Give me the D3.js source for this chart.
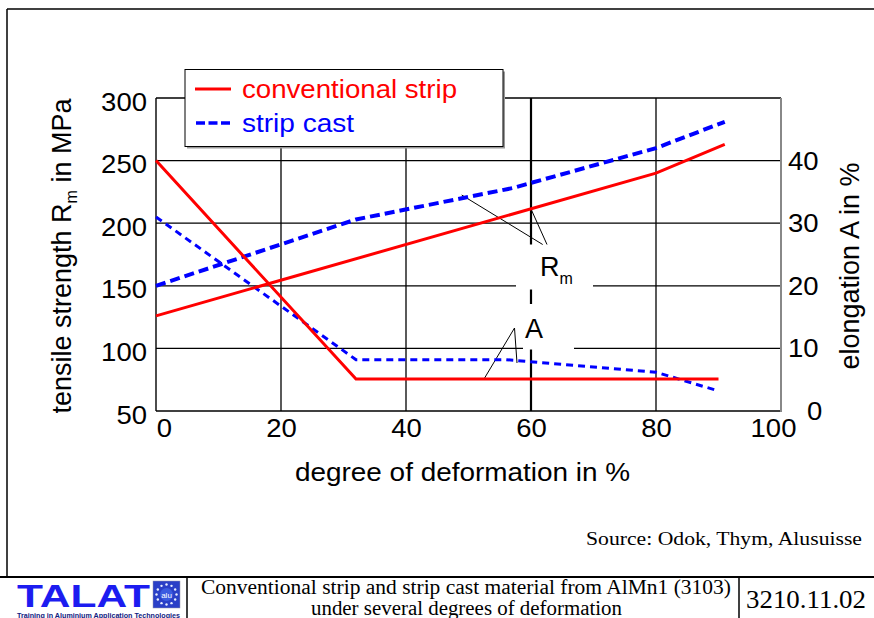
<!DOCTYPE html>
<html><head><meta charset="utf-8">
<script src="https://cdn.jsdelivr.net/npm/d3@7"></script>
<style>
body{margin:0;background:#fff}
svg{display:block}
text{font-family:"Liberation Sans",Arial,sans-serif}
.serif{font-family:"Liberation Serif","Times New Roman",serif}
</style>
</head><body>
<svg id="c" width="874" height="618"></svg>
<script>
// ---- data ----
const xTicks = [0, 20, 40, 60, 80, 100];
const leftTicks = [50, 100, 150, 200, 250, 300];
const rightTicks = [0, 10, 20, 30, 40];
const seriesNames = ["conventional strip", "strip cast"];
// tensile strength Rm (MPa)
const convRmX = [0, 80, 91];
const convRm  = [126, 240, 263];
const castRmX = [0, 32, 57, 80, 91];
const castRm  = [150, 203, 228, 260, 281];
// elongation A (%)
const convAX = [0, 32, 90];
const convA  = [40, 5.1, 5.1];
const castAX = [0, 32, 56, 80, 90];
const castA  = [31, 8.2, 8.2, 6.2, 3.2];

const svg = d3.select("#c");
const X0 = 156, X1 = 781, Y0 = 411, Y1 = 98;
const x = d3.scaleLinear().domain([0, 100]).range([X0, X1]);
const yL = d3.scaleLinear().domain([50, 300]).range([Y0, Y1]);
const yR = d3.scaleLinear().domain([0, 50]).range([Y0, Y1]);

function stretch(sel, k) {
  sel.each(function () {
    const w = this.getComputedTextLength();
    d3.select(this).attr("textLength", w * k).attr("lengthAdjust", "spacingAndGlyphs");
  });
}
function fitText(sel, w) {
  sel.attr("textLength", w).attr("lengthAdjust", "spacingAndGlyphs");
}

// outer frame
svg.append("line").attr("x1", 7).attr("y1", 9).attr("x2", 874).attr("y2", 9).attr("stroke", "#000").attr("stroke-width", 1.5);
svg.append("line").attr("x1", 7).attr("y1", 9).attr("x2", 7).attr("y2", 577).attr("stroke", "#000").attr("stroke-width", 1.5);

// gridlines
const grid = svg.append("g");
leftTicks.filter(d => d > 50).forEach(d => {
  grid.append("line").attr("x1", X0).attr("x2", X1).attr("y1", yL(d)).attr("y2", yL(d))
    .attr("stroke", "#000").attr("stroke-width", 1.3);
});
xTicks.filter(d => d > 0 && d < 100).forEach(d => {
  grid.append("line").attr("x1", x(d)).attr("x2", x(d)).attr("y1", Y1).attr("y2", Y0)
    .attr("stroke", "#000").attr("stroke-width", d === 60 ? 2.2 : 1.3);
});
// axis frame lines
svg.append("line").attr("x1", X0).attr("x2", X0).attr("y1", Y1).attr("y2", Y0).attr("stroke", "#000").attr("stroke-width", 1.4);
svg.append("line").attr("x1", X0).attr("x2", X1).attr("y1", Y0).attr("y2", Y0).attr("stroke", "#000").attr("stroke-width", 1.4);
svg.append("line").attr("x1", X1).attr("x2", X1).attr("y1", Y1).attr("y2", Y0 + 1).attr("stroke", "#888").attr("stroke-width", 2);

// white boxes behind labels (gaps in grid)
svg.append("rect").attr("x", 516).attr("y", 244.5).attr("width", 77).attr("height", 45).attr("fill", "#fff");
svg.append("rect").attr("x", 523).attr("y", 304).attr("width", 51).attr("height", 45.5).attr("fill", "#fff");

// axes
const fs = 25;
const gL = svg.append("g").attr("transform", `translate(${X0},0)`)
  .call(d3.axisLeft(yL).tickValues(leftTicks).tickSize(0).tickPadding(9));
gL.select(".domain").remove();
gL.selectAll("text").attr("font-size", fs).attr("fill", "#000").attr("dy", "0.48em")
  .style("font-family", "'Liberation Sans',Arial,sans-serif");
stretch(gL.selectAll("text"), 1.1);

const gR = svg.append("g").attr("transform", `translate(${X1},0)`)
  .call(d3.axisRight(yR).tickValues(rightTicks).tickSize(0).tickPadding(7));
gR.select(".domain").remove();
gR.selectAll("text").attr("font-size", fs).attr("fill", "#000")
  .attr("dy", "0.34em")
  .attr("dx", d => d === 0 ? 19 : 0)
  .style("font-family", "'Liberation Sans',Arial,sans-serif");
stretch(gR.selectAll("text"), 1.1);

const gB = svg.append("g").attr("transform", `translate(0,${Y0})`)
  .call(d3.axisBottom(x).tickValues(xTicks).tickSize(0).tickPadding(8));
gB.select(".domain").remove();
gB.selectAll("text").attr("font-size", fs).attr("fill", "#000")
  .attr("dx", d => d === 0 ? 8 : (d === 100 ? -8 : 0))
  .style("font-family", "'Liberation Sans',Arial,sans-serif");
stretch(gB.selectAll("text"), 1.1);

// axis titles
const tl = svg.append("text").attr("transform", "translate(71,256) rotate(-90)")
  .attr("text-anchor", "middle").attr("font-size", 27).attr("fill", "#000");
tl.append("tspan").text("tensile strength R");
tl.append("tspan").text("m").attr("font-size", 16).attr("dy", 6);
tl.append("tspan").text(" in MPa").attr("dy", -6);

svg.append("text").attr("transform", "translate(859,266) rotate(-90)")
  .attr("text-anchor", "middle").attr("font-size", 27).attr("fill", "#000")
  .text("elongation A in %");

const xt = svg.append("text").attr("x", 295).attr("y", 481).attr("font-size", fs).attr("fill", "#000")
  .text("degree of deformation in %");
fitText(xt, 335);

// annotation leader lines
const ann = [
  [461.7, 195, 542.7, 244.5], [531, 209, 547, 244.5],
  [514.5, 328, 484, 379], [514.5, 328, 517, 363]
];
ann.forEach(a => svg.append("line").attr("x1", a[0]).attr("y1", a[1]).attr("x2", a[2]).attr("y2", a[3])
  .attr("stroke", "#000").attr("stroke-width", 1));

// data lines
const lineRm = d3.line().x(d => x(d[0])).y(d => yL(d[1]));
const lineA = d3.line().x(d => x(d[0])).y(d => yR(d[1]));
const zip = (a, b) => a.map((v, i) => [v, b[i]]);

svg.append("path").attr("d", lineA(zip(castAX, castA))).attr("fill", "none")
  .attr("stroke", "#0000ff").attr("stroke-width", 3).attr("stroke-dasharray", "7,5");
svg.append("path").attr("d", lineRm(zip(castRmX, castRm))).attr("fill", "none")
  .attr("stroke", "#0000ff").attr("stroke-width", 4).attr("stroke-dasharray", "10,5");
svg.append("path").attr("d", lineA(zip(convAX, convA))).attr("fill", "none")
  .attr("stroke", "#ff0000").attr("stroke-width", 3).attr("stroke-linejoin", "miter");
svg.append("path").attr("d", lineRm(zip(convRmX, convRm))).attr("fill", "none")
  .attr("stroke", "#ff0000").attr("stroke-width", 3);

// Rm and A labels
const rm = svg.append("text").attr("x", 540).attr("y", 276).attr("font-size", 27).attr("fill", "#000");
rm.append("tspan").text("R");
rm.append("tspan").text("m").attr("font-size", 16).attr("dy", 7.5);
svg.append("text").attr("x", 525).attr("y", 338).attr("font-size", 27).attr("fill", "#000").text("A");

// legend
const lg = svg.append("g");
lg.append("rect").attr("x", 187).attr("y", 71.5).attr("width", 318).attr("height", 77).attr("fill", "#999");
lg.append("rect").attr("x", 185).attr("y", 69.5).attr("width", 318).attr("height", 77)
  .attr("fill", "#fff").attr("stroke", "#000").attr("stroke-width", 1);
lg.append("line").attr("x1", 195).attr("x2", 231).attr("y1", 89).attr("y2", 89)
  .attr("stroke", "#ff0000").attr("stroke-width", 3);
lg.append("line").attr("x1", 196).attr("x2", 231).attr("y1", 123).attr("y2", 123)
  .attr("stroke", "#0000ff").attr("stroke-width", 3.5).attr("stroke-dasharray", "9,3.5");
const l1 = lg.append("text").attr("x", 242).attr("y", 98).attr("font-size", fs).attr("fill", "#ff0000").text(seriesNames[0]);
fitText(l1, 215);
const l2 = lg.append("text").attr("x", 242).attr("y", 132).attr("font-size", fs).attr("fill", "#0000ff").text(seriesNames[1]);
fitText(l2, 112);

// source
const src = svg.append("text").attr("class", "serif").attr("x", 586).attr("y", 545)
  .attr("font-size", 19).attr("fill", "#000").text("Source: Odok, Thym, Alusuisse");
fitText(src, 276);

// footer
svg.append("line").attr("x1", 0).attr("x2", 874).attr("y1", 577).attr("y2", 577).attr("stroke", "#000").attr("stroke-width", 2);
svg.append("line").attr("x1", 187).attr("x2", 187).attr("y1", 577).attr("y2", 618).attr("stroke", "#000").attr("stroke-width", 1.5);
svg.append("line").attr("x1", 739).attr("x2", 739).attr("y1", 577).attr("y2", 618).attr("stroke", "#000").attr("stroke-width", 1.5);

const f1 = svg.append("text").attr("class", "serif").attr("x", 201).attr("y", 594).attr("font-size", 20).attr("fill", "#000")
  .text("Conventional strip and strip cast material from AlMn1 (3103)");
fitText(f1, 530);
const f2 = svg.append("text").attr("class", "serif").attr("x", 311).attr("y", 615).attr("font-size", 20).attr("fill", "#000")
  .text("under several degrees of deformation");
fitText(f2, 311);
const f3 = svg.append("text").attr("class", "serif").attr("x", 746).attr("y", 608).attr("font-size", 26).attr("fill", "#000")
  .text("3210.11.02");
fitText(f3, 120);

// TALAT logo
const tal = svg.append("text").attr("x", 17).attr("y", 607).attr("font-size", 32).attr("font-weight", "bold")
  .attr("fill", "#1c1cf0").text("TALAT");
fitText(tal, 133);
const lgq = svg.append("g");
lgq.append("rect").attr("x", 153).attr("y", 581).attr("width", 27).attr("height", 27).attr("fill", "#2a3fc7").attr("stroke", "#99a").attr("stroke-width", 0.5);
for (let i = 0; i < 12; i++) {
  const a = i / 12 * Math.PI * 2;
  lgq.append("circle").attr("cx", 166.5 + 10 * Math.cos(a)).attr("cy", 594.5 + 10 * Math.sin(a)).attr("r", 1.2).attr("fill", "#e8eeff");
}
lgq.append("circle").attr("cx", 166.5).attr("cy", 594.5).attr("r", 6.5).attr("fill", "#3b5be0");
lgq.append("text").attr("x", 166.5).attr("y", 597.5).attr("text-anchor", "middle").attr("font-size", 8).attr("fill", "#fff").text("alu");
const small = svg.append("text").attr("x", 17).attr("y", 617.5).attr("font-size", 6.5).attr("font-weight", "bold")
  .attr("fill", "#102080").text("Training in Aluminium Application Technologies");
fitText(small, 163);
</script>
</body></html>
